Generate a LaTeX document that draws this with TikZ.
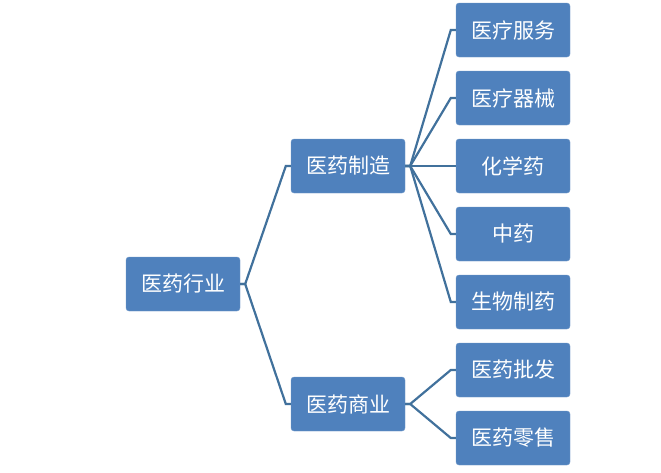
\documentclass[tikz,border=0pt]{standalone}
\usepackage{fontspec}
\newfontfamily\cjk{Noto Sans CJK SC}
\usetikzlibrary{positioning}
\definecolor{boxblue}{HTML}{4F81BD}
\definecolor{boxline}{HTML}{3A6AA0}
\definecolor{linkblue}{HTML}{41719C}
\tikzset{
  item/.style={rectangle, rounded corners=3pt, fill=boxblue, draw=boxblue!80!white,
    minimum width=114pt, minimum height=54pt, text=white, font=\cjk\fontsize{21pt}{24pt}\selectfont,
    inner sep=0pt},
  link/.style={draw=linkblue, line width=2.2pt}
}
\begin{document}
\begin{tikzpicture}[x=1pt, y=-1pt]
  \useasboundingbox (0,0) rectangle (661,472);
  \node[item] (root) at (183,284) {医药行业};
  \node[item] (make) at (348,166) {医药制造};
  \node[item] (trade) at (348,404) {医药商业};
  \node[item] (m1) at (513,30)  {医疗服务};
  \node[item] (m2) at (513,98)  {医疗器械};
  \node[item] (m3) at (513,166) {化学药};
  \node[item] (m4) at (513,234) {中药};
  \node[item] (m5) at (513,302) {生物制药};
  \node[item] (t1) at (513,370) {医药批发};
  \node[item] (t2) at (513,438) {医药零售};

  \foreach \child in {make, trade}
    \draw[link] (root.east) -- ++(5,0) -- ([xshift=-5pt]\child.west) -- (\child.west);
  \foreach \child in {m1, m2, m3, m4, m5}
    \draw[link] (make.east) -- ++(5,0) -- ([xshift=-5pt]\child.west) -- (\child.west);
  \foreach \child in {t1, t2}
    \draw[link] (trade.east) -- ++(5,0) -- ([xshift=-5pt]\child.west) -- (\child.west);
\end{tikzpicture}
\end{document}
